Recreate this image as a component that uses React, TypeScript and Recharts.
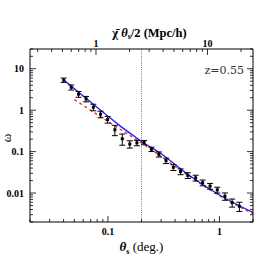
import React from 'react';
import { ComposedChart, Line, Scatter, XAxis, YAxis, ErrorBar, ReferenceLine } from 'recharts';

// observed angular correlation function
const thetaObs = [0.0401, 0.0469, 0.0545, 0.0637, 0.074, 0.0858, 0.0994, 0.1154, 0.1345, 0.157, 0.182, 0.211, 0.246, 0.286, 0.332, 0.386, 0.448, 0.52, 0.612, 0.707, 0.824, 0.957, 1.12, 1.3, 1.51];
const omegaObs = [5.33, 3.56, 2.44, 1.87, 1.18, 0.8, 0.595, 0.337, 0.204, 0.152, 0.163, 0.166, 0.114, 0.086, 0.0605, 0.0417, 0.033, 0.0267, 0.0232, 0.0178, 0.0147, 0.0119, 0.00837, 0.00586, 0.0048];
const omegaErrFrac = [0.12, 0.14, 0.16, 0.15, 0.18, 0.18, 0.18, 0.28, 0.3, 0.2, 0.15, 0.12, 0.12, 0.14, 0.15, 0.16, 0.16, 0.16, 0.16, 0.16, 0.16, 0.16, 0.2, 0.22, 0.25];

// model curves
const thetaBlue = [0.04, 0.06, 0.1, 0.13, 0.17, 0.2, 0.3, 0.5, 1, 2];
const omegaBlue = [5.46, 2.21, 0.716, 0.407, 0.241, 0.176, 0.0886, 0.0306, 0.009, 0.0034];
const thetaRed = [0.05, 0.1, 0.2, 0.5, 1, 2];
const omegaRed = [1.8, 0.535, 0.161, 0.029, 0.0086, 0.00318];

// axes
const xDomain = [0.02, 2];
const yDomain = [0.002, 30];
const xMajor = [0.1, 1];
const xMinor = [0.02, 0.03, 0.04, 0.05, 0.06, 0.07, 0.08, 0.09, 0.2, 0.3, 0.4, 0.5, 0.6, 0.7, 0.8, 0.9, 2];
const mpcMajor = [1, 10];
const mpcMinor = [0.3, 0.4, 0.5, 0.6, 0.7, 0.8, 0.9, 2, 3, 4, 5, 6, 7, 8, 9, 20];
const CHI_HALF = 12.8; // Mpc/h per degree (chi-bar / 2)
const yMajor = [0.01, 0.1, 1, 10];
const yMinor = [0.002, 0.003, 0.004, 0.005, 0.006, 0.007, 0.008, 0.009, 0.02, 0.03, 0.04, 0.05, 0.06, 0.07, 0.08, 0.09, 0.2, 0.3, 0.4, 0.5, 0.6, 0.7, 0.8, 0.9, 2, 3, 4, 5, 6, 7, 8, 9, 20, 30];
const zLabel = 'z=0.55';
const vLineTheta = 0.2;

const obs = thetaObs.map((x, i) => ({ x, y: omegaObs[i], err: [omegaObs[i] * omegaErrFrac[i], omegaObs[i] * omegaErrFrac[i]] }));
const blue = thetaBlue.map((x, i) => ({ x, y: omegaBlue[i] }));
const red = thetaRed.map((x, i) => ({ x, y: omegaRed[i] }));

const sortNum = (a: number[]) => [...a].sort((p, q) => p - q);
const xTicks = sortNum([...xMajor, ...xMinor]);
const topMajorTheta = mpcMajor.map((m) => m / CHI_HALF);
const topTicks = sortNum([...mpcMajor, ...mpcMinor].map((m) => m / CHI_HALF));
const yTicks = sortNum([...yMajor, ...yMinor]);

const isIn = (v: number, arr: number[]) => arr.some((m) => Math.abs(m - v) / m < 1e-6);

const labelFont = { fontFamily: 'Liberation Serif', fontSize: 10, fontWeight: 'bold' as const, fill: '#000' };
const fmt = (v: number) => String(v);

const BottomTick = (p: any) => {
  const { x, y, payload } = p;
  const major = isIn(payload.value, xMajor);
  const len = major ? 6 : 3;
  return (
    <g>
      <line x1={x} x2={x} y1={y} y2={y - len} stroke="#000" strokeWidth={0.8} />
      {major && <text x={x} y={y + 13} textAnchor="middle" {...labelFont}>{fmt(payload.value)}</text>}
    </g>
  );
};
const TopTick = (p: any) => {
  const { x, y, payload } = p;
  const idx = topMajorTheta.findIndex((m) => Math.abs(m - payload.value) / m < 1e-6);
  const major = idx >= 0;
  const len = major ? 6 : 3;
  return (
    <g>
      <line x1={x} x2={x} y1={y} y2={y + len} stroke="#000" strokeWidth={0.8} />
      {major && <text x={x} y={y - 2} textAnchor="middle" {...labelFont}>{fmt(mpcMajor[idx])}</text>}
    </g>
  );
};
const LeftTick = (p: any) => {
  const { x, y, payload } = p;
  const major = isIn(payload.value, yMajor);
  const len = major ? 6 : 3;
  return (
    <g>
      <line x1={x} x2={x + len} y1={y} y2={y} stroke="#000" strokeWidth={0.8} />
      {major && <text x={x - 6} y={y + 3.5} textAnchor="end" {...labelFont}>{fmt(payload.value)}</text>}
    </g>
  );
};
const RightTick = (p: any) => {
  const { x, y, payload } = p;
  const major = isIn(payload.value, yMajor);
  const len = major ? 6 : 3;
  return <line x1={x} x2={x - len} y1={y} y2={y} stroke="#000" strokeWidth={0.8} />;
};

const Dot = (p: any) => <rect x={p.cx - 1.5} y={p.cy - 1.5} width={3} height={3} fill="#000" />;

export default function App() {
  return (
    <div style={{ position: 'absolute', left: 0, top: 0 }}>
      <ComposedChart width={277} height={277} margin={{ top: 0, right: 0, bottom: 0, left: 0 }}>
        <XAxis
          xAxisId="bottom"
          dataKey="x"
          type="number"
          scale="log"
          domain={xDomain}
          allowDataOverflow
          ticks={xTicks}
          interval={0}
          tick={BottomTick}
          tickLine={false}
          tickSize={0}
          tickMargin={0}
          height={55}
          axisLine={{ stroke: '#000', strokeWidth: 1 }}
          label={{
            content: (lp: any) => {
              const vb = lp.viewBox;
              return (
                <text x={vb.x + vb.width / 2} y={vb.y + 29} textAnchor="middle" fontFamily="Liberation Serif" fontSize={13} fill="#000">
                  <tspan fontStyle="italic" fontWeight="bold">θ</tspan>
                  <tspan fontSize={8} dy={3} fontWeight="bold">s</tspan>
                  <tspan dy={-3}> (deg.)</tspan>
                </text>
              );
            },
          }}
        />
        <XAxis
          xAxisId="top"
          orientation="top"
          dataKey="x"
          type="number"
          scale="log"
          domain={xDomain}
          allowDataOverflow
          ticks={topTicks}
          interval={0}
          tick={TopTick}
          tickLine={false}
          tickSize={0}
          tickMargin={0}
          height={49}
          axisLine={{ stroke: '#000', strokeWidth: 1 }}
          label={{
            content: (lp: any) => {
              const vb = lp.viewBox;
              return (
                <text x={vb.x + vb.width / 2 + 8} y={37} textAnchor="middle" fontFamily="Liberation Serif" fontSize={12.5} fontWeight="bold" fill="#000">
                  <tspan>χ̄ </tspan>
                  <tspan fontStyle="italic">θ</tspan>
                  <tspan fontSize={8} dy={2}>s</tspan>
                  <tspan dy={-2}>/2 (Mpc/h)</tspan>
                </text>
              );
            },
          }}
        />
        <YAxis
          yAxisId="left"
          type="number"
          scale="log"
          domain={yDomain}
          allowDataOverflow
          ticks={yTicks}
          interval={0}
          tick={LeftTick}
          tickLine={false}
          tickSize={0}
          tickMargin={0}
          width={30}
          axisLine={{ stroke: '#000', strokeWidth: 1 }}
          label={{
            content: () => (
              <text x={11} y={138} transform="rotate(-90 11 138)" textAnchor="middle" fontFamily="Liberation Serif" fontSize={13} fill="#000">ω</text>
            ),
          }}
        />
        <YAxis
          yAxisId="right"
          orientation="right"
          type="number"
          scale="log"
          domain={yDomain}
          allowDataOverflow
          ticks={yTicks}
          interval={0}
          tick={RightTick}
          tickLine={false}
          tickSize={0}
          tickMargin={0}
          width={24}
          axisLine={{ stroke: '#000', strokeWidth: 1 }}
          label={{
            content: (lp: any) => {
              const vb = lp.viewBox;
              return (
                <text x={vb.x - 9} y={74} textAnchor="end" fontFamily="DejaVu Serif" fontSize={11} fill="#333">{zLabel}</text>
              );
            },
          }}
        />
        <ReferenceLine x={vLineTheta} xAxisId="bottom" yAxisId="left" stroke="#777" strokeDasharray="1 1.2" strokeWidth={1} />
        <Line
          data={red}
          dataKey="y"
          xAxisId="top"
          yAxisId="left"
          type="monotone"
          stroke="#ff2020"
          strokeWidth={1.3}
          strokeDasharray="3 3"
          dot={false}
          isAnimationActive={false}
        />
        <Line
          data={blue}
          dataKey="y"
          xAxisId="bottom"
          yAxisId="right"
          type="monotone"
          stroke="#1a1aff"
          strokeWidth={1.3}
          dot={false}
          isAnimationActive={false}
        />
        <Scatter data={obs} dataKey="y" xAxisId="bottom" yAxisId="left" shape={Dot} isAnimationActive={false}>
          <ErrorBar dataKey="err" direction="y" width={3} stroke="#000" strokeWidth={1} isAnimationActive={false} />
        </Scatter>
      </ComposedChart>
    </div>
  );
}
